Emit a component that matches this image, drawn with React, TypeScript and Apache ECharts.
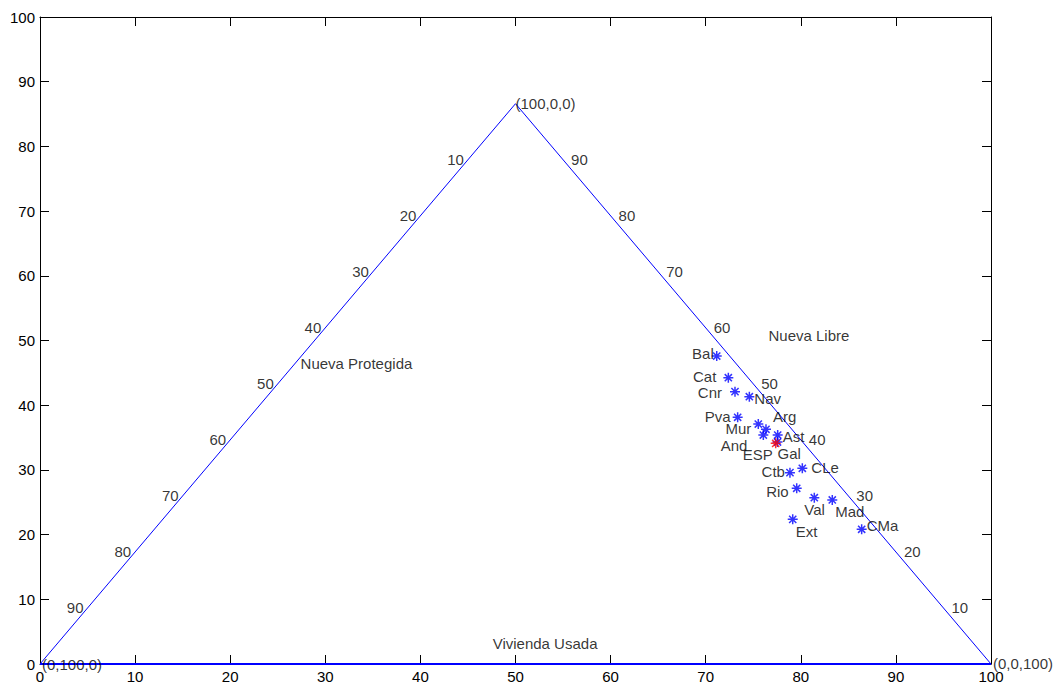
import React, { useEffect, useRef } from "react";
import * as echarts from "echarts";

// Region codes and their plotted coordinates (x, y in axis units)
const regions = ["Bal", "Cat", "Cnr", "Nav", "Pva", "Mur", "Arg", "And", "Ast", "Gal", "Ctb", "CLe", "Rio", "Val", "Mad", "Ext", "CMa"];
const regionX = [71.16, 72.38, 73.08, 74.59, 73.36, 75.53, 76.34, 76.06, 77.57, 77.55, 78.86, 80.16, 79.57, 81.42, 83.31, 79.15, 86.4];
const regionY = [47.6, 44.25, 42.09, 41.31, 38.13, 37.09, 36.28, 35.39, 35.39, 34.31, 29.57, 30.25, 27.16, 25.7, 25.35, 22.36, 20.82];
const espName = ["ESP"];
const espX = [77.36];
const espY = [34.11];

// Ternary frame
const triangleHeight = 86.6;
const ternaryTicks = [10, 20, 30, 40, 50, 60, 70, 80, 90];
const cornerLabels = ["(100,0,0)", "(0,100,0)", "(0,0,100)"];
const areaLabels = ["Nueva Protegida", "Nueva Libre", "Vivienda Usada"];
const areaX = [27.4, 76.6, 47.6];
const areaY = [46.5, 50.8, 3.2];

// label placement (style only): [align, dx, dy] in px
const labelPlace: Record<string, [string, number, number]> = {
  Bal: ["right", -3, -3],
  Cat: ["right", -12, -1],
  Cnr: ["right", -13, 1],
  Nav: ["left", 5, 2],
  Pva: ["right", -7, -1],
  Mur: ["right", -7, 4],
  Arg: ["left", 7, -13],
  And: ["right", -16, 10],
  Ast: ["left", 5, 1],
  Gal: ["left", 0, 11],
  ESP: ["right", -3, 11],
  Ctb: ["right", -5, -1],
  CLe: ["left", 9, -1],
  Rio: ["right", -8, 3],
  Val: ["left", -10, 12],
  Mad: ["left", 3, 12],
  Ext: ["left", 3, 12],
  CMa: ["left", 5, -4],
};

const FONT = "'Liberation Sans', Arial, Helvetica, sans-serif";
const FS = 15;
const LH = 12;
const STAR = "path://M0,-5L0,5M-5,0L5,0M-3.6,-3.6L3.6,3.6M-3.6,3.6L3.6,-3.6";

function pointLabel(name: string) {
  const p = labelPlace[name];
  return {
    show: true,
    position: "inside" as const,
    align: p[0],
    verticalAlign: "middle",
    offset: [p[1], p[2]],
    formatter: name,
    color: "#000",
    fontSize: FS,
    lineHeight: LH,
    fontFamily: FONT,
  };
}

function textSeries(points: { value: number[]; text: string; align: string; dx: number; dy: number }[]) {
  return {
    type: "scatter",
    symbol: "circle",
    symbolSize: 1,
    silent: true,
    clip: false,
    itemStyle: { color: "rgba(0,0,0,0)" },
    z: 5,
    data: points.map((p) => ({
      value: p.value,
      label: {
        show: true,
        position: "inside",
        align: p.align,
        verticalAlign: "middle",
        offset: [p.dx, p.dy],
        formatter: p.text,
        color: "#000",
        fontSize: FS,
        lineHeight: LH,
        fontFamily: FONT,
      },
    })),
  };
}

export default function App() {
  const ref = useRef<HTMLDivElement>(null);
  useEffect(() => {
    const chart = echarts.init(ref.current!, null, { renderer: "svg" });

    const axisCommon = {
      type: "value",
      min: 0,
      max: 100,
      interval: 10,
      axisLine: { show: true, onZero: false, lineStyle: { color: "#000", width: 1 } },
      axisTick: { show: true, inside: true, length: 9, lineStyle: { color: "#000", width: 1 } },
      splitLine: { show: false },
    };
    const labelOn = { show: true, color: "#000", fontSize: FS, fontFamily: FONT, margin: 5 };

    const leftTicks = ternaryTicks.map((v) => {
      const t = v / 100;
      return { value: [50 * (1 - t), triangleHeight * (1 - t)], text: String(v), align: "right", dx: -4, dy: 0 };
    });
    const rightTicks = ternaryTicks.map((v) => {
      const t = v / 100;
      return { value: [100 - 50 * t, triangleHeight * t], text: String(v), align: "left", dx: 8, dy: 0 };
    });
    const corners = [
      { value: [50, triangleHeight], text: cornerLabels[0], align: "left", dx: 0, dy: 0 },
      { value: [0, 0], text: cornerLabels[1], align: "left", dx: 2, dy: 0 },
      { value: [100, 0], text: cornerLabels[2], align: "left", dx: 2, dy: -1 },
    ];
    const areas = areaLabels.map((t, i) => ({ value: [areaX[i], areaY[i]], text: t, align: "left", dx: 0, dy: 0 }));

    chart.setOption({
      animation: false,
      backgroundColor: "#fff",
      textStyle: { fontFamily: FONT },
      grid: { left: 40, top: 17, width: 951, height: 647, containLabel: false },
      xAxis: [
        { ...axisCommon, position: "bottom", axisLabel: labelOn },
        { ...axisCommon, position: "top", axisLabel: { show: false } },
      ],
      yAxis: [
        { ...axisCommon, position: "left", axisLabel: labelOn },
        { ...axisCommon, position: "right", axisLabel: { show: false } },
      ],
      series: [
        {
          type: "line",
          xAxisIndex: 0,
          yAxisIndex: 0,
          clip: false,
          symbol: "none",
          silent: true,
          lineStyle: { color: "#0000ff", width: 1 },
          data: [
            [0, 0],
            [50, triangleHeight],
            [100, 0],
          ],
          z: 3,
        },
        {
          type: "line",
          xAxisIndex: 0,
          yAxisIndex: 0,
          clip: false,
          symbol: "none",
          silent: true,
          lineStyle: { color: "#0000ff", width: 2 },
          data: [
            [0, 0],
            [100, 0],
          ],
          z: 3,
        },
        textSeries(leftTicks),
        textSeries(rightTicks),
        textSeries(corners),
        textSeries(areas),
        {
          type: "scatter",
          symbol: STAR,
          symbolSize: 10,
          silent: true,
          itemStyle: { color: "#0000ff", borderColor: "#0000ff", borderWidth: 1.5 },
          z: 6,
          data: regions.map((r, i) => ({ value: [regionX[i], regionY[i]], name: r, label: pointLabel(r) })),
        },
        {
          type: "scatter",
          symbol: STAR,
          symbolSize: 10,
          silent: true,
          itemStyle: { color: "#ff0000", borderColor: "#ff0000", borderWidth: 1.5 },
          z: 7,
          data: espName.map((r, i) => ({ value: [espX[i], espY[i]], name: r, label: pointLabel(r) })),
        },
      ],
    });
    return () => chart.dispose();
  }, []);
  return (
    <div
      ref={ref}
      style={{ position: "fixed", left: 0, top: 0, width: 1062, height: 684, background: "#fff" }}
    />
  );
}
